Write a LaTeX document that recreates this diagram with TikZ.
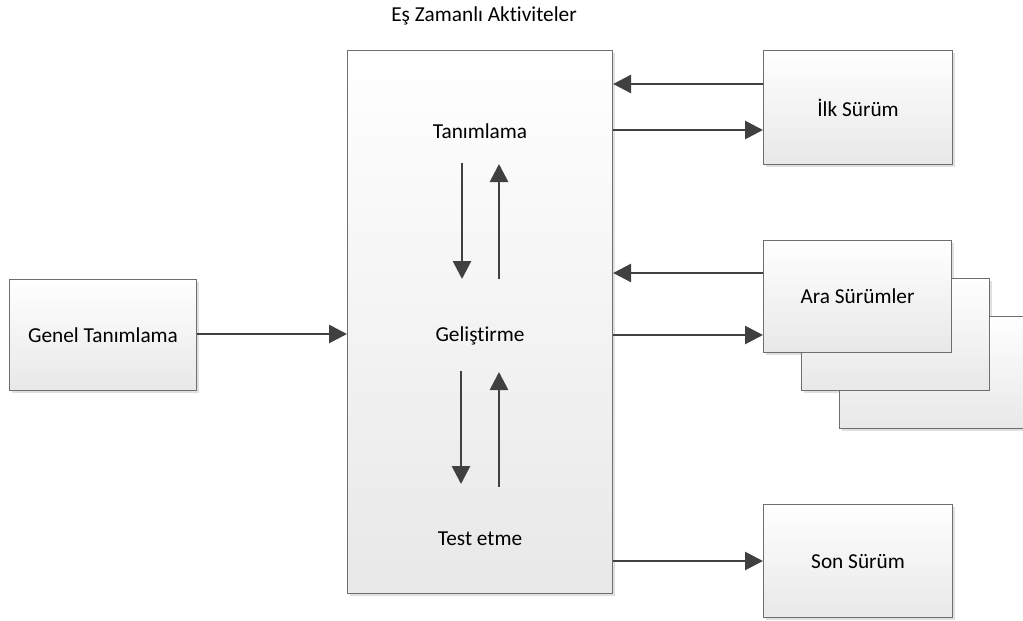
\documentclass[tikz,border=0pt]{standalone}
\usepackage{fontspec}
\setmainfont{Carlito}[Ligatures=NoCommon, Contextuals=NoAlternate, RawFeature={-liga;-clig;-dlig}]
\usetikzlibrary{arrows.meta}
\definecolor{edge}{HTML}{6E6E6E}
\definecolor{arrowc}{HTML}{404040}
\definecolor{shade}{HTML}{E8E8E8}
\tikzset{
  box/.style={draw=edge, line width=1.1pt, top color=white, bottom color=shade,
    minimum width=#1, inner sep=0pt, anchor=north west},
  box/.default=189pt,
  shadowbox/.style={fill=black!12, draw=none},
  lbl/.style={font=\fontsize{21.3}{25}\selectfont, text=black},
  arr/.style={draw=arrowc, line width=2.8pt, -{Triangle[length=18pt,width=18pt]}}
}
\begin{document}
\begin{tikzpicture}[x=1pt,y=-1pt]
\useasboundingbox (0,0) rectangle (1023,621);
\clip (0,0) rectangle (1023,621);
\fill[white] (0,0) rectangle (1023,621);

% soft drop shadows behind the boxes
\fill[shadowbox] (12,282) rectangle (199,393);
\fill[shadowbox] (350,53) rectangle (615,596);
\fill[shadowbox] (766,53) rectangle (955,167);
\fill[shadowbox] (842,319) rectangle (1030,431);
\fill[shadowbox] (804,281) rectangle (992,393);
\fill[shadowbox] (766,243) rectangle (954,355);
\fill[shadowbox] (766,507) rectangle (955,620);

% boxes
\node[box=187pt, minimum height=111pt] (genel) at (9,279) {};
\node[box=265pt, minimum height=543pt] (center) at (347,50) {};
\node[box, minimum height=114pt] (ilk) at (763,50) {};
\node[box=188pt, minimum height=112pt] (ara3) at (839,316) {};
\node[box=188pt, minimum height=112pt] (ara2) at (801,278) {};
\node[box=188pt, minimum height=112pt] (ara) at (763,240) {};
\node[box, minimum height=113pt] (son) at (763,504) {};

% labels
\node[lbl] (title) at (484,16) {Eş Zamanlı Aktiviteler};
\node[lbl] at (genel.center) {Genel Tanımlama};
\node[lbl] at (ilk.center) {İlk Sürüm};
\node[lbl] at (ara.center) {Ara Sürümler};
\node[lbl] at (son.center) {Son Sürüm};
\node[lbl] (tan) at (480,131) {Tanımlama};
\node[lbl] (gel) at (480,336) {Geliştirme};
\node[lbl] (test) at (480,539) {Test etme};

% activity loops inside the central box
\coordinate (t1) at (462,163); \coordinate (g1) at (462,279);
\coordinate (g2) at (499,279); \coordinate (t2) at (499,164);
\coordinate (g3) at (461,371); \coordinate (s1) at (461,484);
\coordinate (s2) at (499,487); \coordinate (g4) at (499,372);
\draw[arr] (t1) -- (g1);
\draw[arr] (g2) -- (t2);
\draw[arr] (g3) -- (s1);
\draw[arr] (s2) -- (g4);

% connectors between the boxes
\draw[arr] (genel.east |- 0,334) -- (center.west |- 0,334);
\draw[arr] (ilk.west |- 0,84) -- (center.east |- 0,84);
\draw[arr] (center.east |- 0,130) -- (ilk.west |- 0,130);
\draw[arr] (ara.west |- 0,273) -- (center.east |- 0,273);
\draw[arr] (center.east |- 0,335) -- (ara.west |- 0,335);
\draw[arr] (center.east |- 0,561) -- (son.west |- 0,561);
\end{tikzpicture}
\end{document}
